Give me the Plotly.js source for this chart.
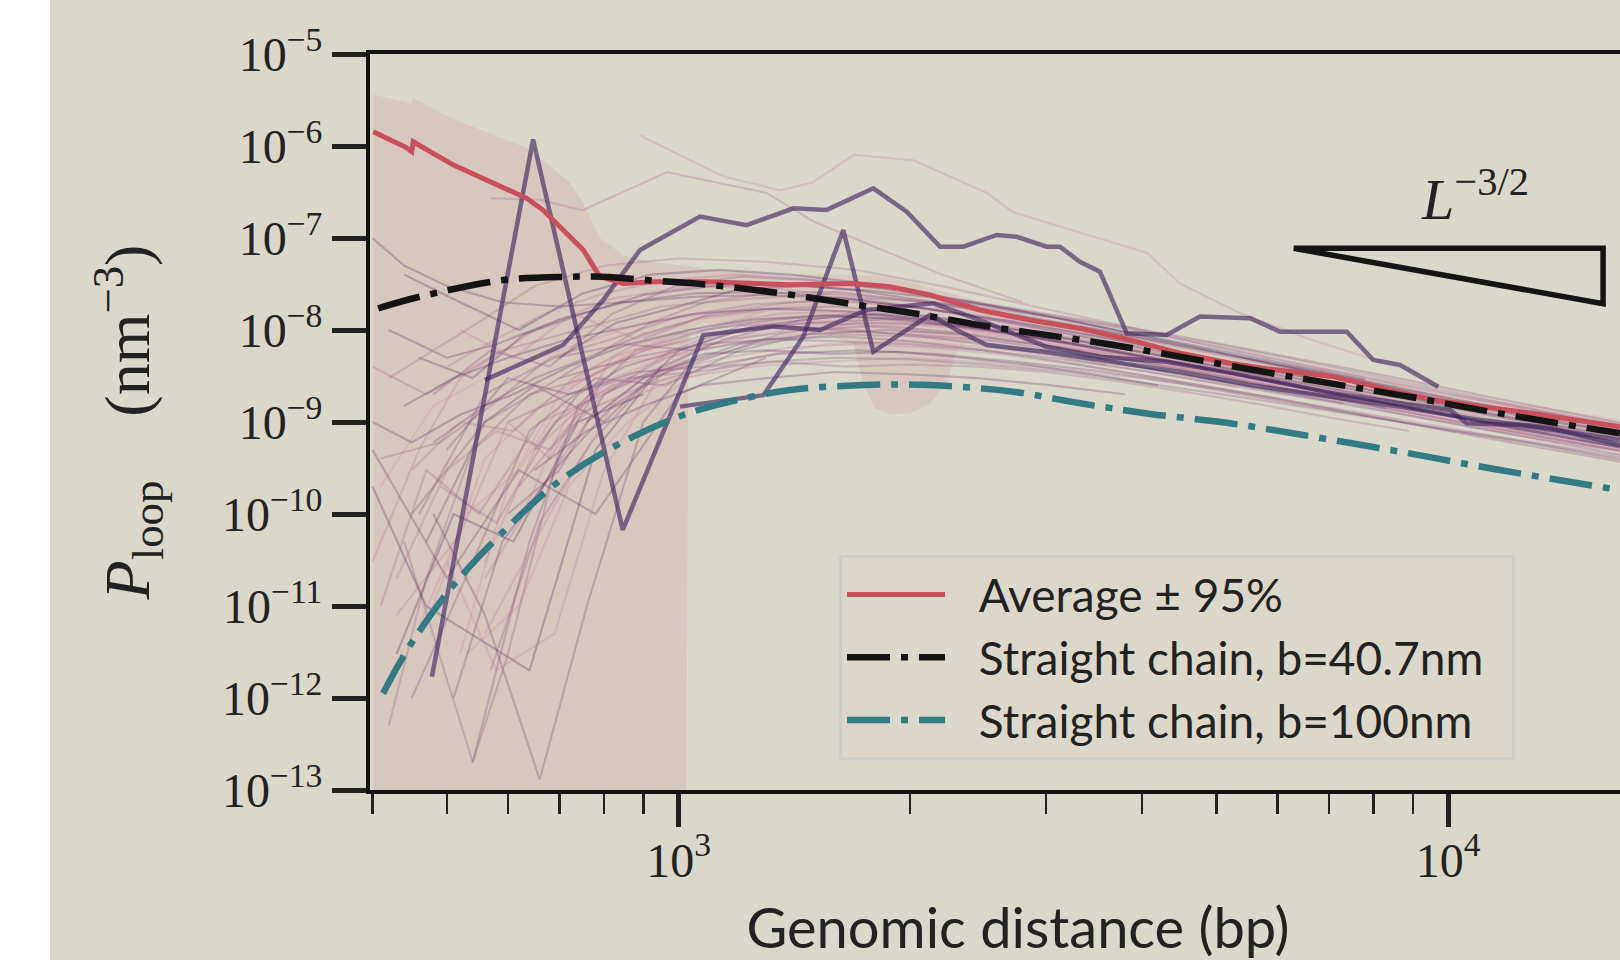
<!DOCTYPE html>
<html><head><meta charset="utf-8">
<script src="https://cdn.plot.ly/plotly-3.0.1.min.js"></script>
<style>
html,body{margin:0;padding:0;background:#ffffff;overflow:hidden;width:1620px;height:960px}
#plot{position:absolute;left:50px;top:0;width:1616px;height:960px}
</style>
</head><body><div id="plot"></div>
<script>
// ---------- data ----------
const avgX = [401,441,450,452,510,552,635,667,722,752,790,848,927,1077,1396,1687,1883,2122,2464,2862,3323,3860,4484,5207,5811,7094,9566,12900,16725];
const avgY = [1.43e-6,9.8e-7,8.7e-7,1.11e-6,6.2e-7,4.6e-7,2.7e-7,2.0e-7,1.03e-7,7.4e-8,3.8e-8,3.2e-8,3.35e-8,3.35e-8,3.1e-8,3.2e-8,2.96e-8,2.4e-8,1.65e-8,1.28e-8,1.04e-8,7.8e-9,5.6e-9,4.35e-9,3.8e-9,3.1e-9,1.73e-9,1.24e-9,8.9e-10];

const bandX  = [401,441,450,452,510,552,635,667,722,752,790,848,927,1020,1030,1077,1250,1396,1550,1687,1738,1800,1883,2000,2122,2230,2300,2464,2862,3323,3860,4484,5207,5811,7094,9566,12900,16725];
const bandHi = [3.6e-6,3.0e-6,2.8e-6,3.3e-6,1.95e-6,1.5e-6,9.5e-7,7e-7,4e-7,2.4e-7,1e-7,6.5e-8,5.5e-8,5e-8,5e-8,4.6e-8,4.2e-8,4e-8,4e-8,4e-8,3.95e-8,3.9e-8,3.7e-8,3.3e-8,2.9e-8,2.6e-8,2.4e-8,2e-8,1.55e-8,1.25e-8,9.4e-9,6.8e-9,5.3e-9,4.6e-9,3.7e-9,2.1e-9,1.5e-9,1.07e-9];
const bandLo = [1e-16,1e-16,1e-16,1e-16,1e-16,1e-16,1e-16,1e-16,1e-16,1e-16,1e-16,1e-16,1e-16,1e-16,1e-8,1.2e-8,1.1e-8,1e-8,9e-9,7e-9,2.6e-9,1.4e-9,1.2e-9,1.25e-9,1.6e-9,2.6e-9,6e-9,9e-9,8e-9,6.8e-9,5.2e-9,3.9e-9,3.1e-9,2.7e-9,2.2e-9,1.3e-9,9.5e-10,6.9e-10];

const chain407X = [407,461,592,722,798,927,1077,1341,1654,2018,2464,3008,3672,4484,6422,8659,11676,16725];
const chain407Y = [1.72e-8,2.30e-8,3.49e-8,3.79e-8,3.79e-8,3.44e-8,3.14e-8,2.54e-8,1.95e-8,1.52e-8,1.13e-8,8.83e-9,6.88e-9,5.13e-9,2.99e-9,1.96e-9,1.24e-9,7.53e-10];

const chain100X = [413,448,510,592,694,831,1014,1190,1396,1738,2122,2722,3323,4058,5207,6422,8659,11676,16725];
const chain100Y = [1.12e-12,3.77e-12,1.69e-11,6.43e-11,2.16e-10,5.62e-10,1.19e-9,1.73e-9,2.23e-9,2.52e-9,2.52e-9,2.13e-9,1.60e-9,1.24e-9,9.68e-10,7.3e-10,4.75e-10,3.01e-10,1.82e-10];

// highlighted single realisations
const hiAX = [478,647,846,1077,1328,1527,1755,2143,2464,3008,3528,4308,5260,6108,7094,8659,10058,10573,12403,16725];
const hiAY = [1.71e-12,1.18e-6,6.7e-11,8.83e-9,1.09e-8,1.0e-8,1.65e-8,1.95e-8,1.28e-8,6.58e-9,5.13e-9,4.52e-9,3.38e-9,2.64e-9,2.05e-9,1.6e-9,1.35e-9,9.68e-10,9.27e-10,6.37e-10];
const hiBX = [560,708,798,891,1066,1226,1410,1558,1791,1979,2187,2344,2591,2750,3008,3130,3323,3528,3823,4308,4760,5529,6048,7383,7995,8659,9711];
const hiBY = [2.86e-9,6.87e-9,2.12e-8,7.41e-8,1.71e-7,1.38e-7,2.10e-7,2.02e-7,3.47e-7,1.93e-7,8.04e-8,8.04e-8,1.08e-7,1.03e-7,8.04e-8,8.04e-8,5.52e-8,4.30e-8,9.2e-9,8.83e-9,1.40e-8,1.34e-8,9.6e-9,9.6e-9,4.72e-9,4.17e-9,2.42e-9];
const hiDX = [1004,1289,1452,1637,1791,2122,2298,2514,3008,3669,4484,5529,7023,8659,11004,13566,16725];
const hiDY = [1.47e-9,1.96e-9,8.45e-9,1.22e-7,5.81e-9,1.46e-8,1.0e-8,6.87e-9,5.77e-9,4.49e-9,3.49e-9,2.52e-9,1.87e-9,1.46e-9,1.05e-9,8.6e-10,5.62e-10];

// faint individual realisations
const thinX = [
 [410,480,560,700,900,1150,1500,1900,2500,3200,4200,5500,7200,9500,12500,16500],
 [430,520,600,680,820,1000,1300,1700,2200,2800,3600,4700,6100,8000],
 [400,470,590,740,950,1250,1600,2100,2700,3500,4500,5800,7500,9800,12800,17000],
 [450,540,640,780,960,1200,1550,2000,2600,3300,4300,5600,7300],
 [470,560,650,800,1000,1250,1600,2050,2650,3400,4400,5700,7400,9600,12500,16000,17000],
 [520,600,700,850,1050,1350,1700,2200,2900,3700,4800,6200,8000,10400,13500,17500],
 [400,460,520,650,820,1050,1350,1750,2300,3000,3900,5100,6600,8600],
 [490,580,690,820,990,1250,1600,2050,2600,3400,4400,5700,7400,9600,12500,17000],
 [540,640,740,880,1080,1350,1700,2150,2750,3500,4500,5800],
 [420,500,580,700,850,1050,1300,1650,2100,2700,3500,4500,5800,7500,9700,12600,17000],
 [460,530,620,730,880,1080,1350,1700,2200,2800,3600,4700,6100,7900,10300,13400,17500],
 [560,650,760,900,1100,1400,1750,2250,2900,3700,4800,6200,8000,10400,13500],
 [410,490,570,680,820,1000,1250,1600,2000,2600,3400,4400,5700,7400,9600,12500,17000],
 [600,700,800,950,1150,1450,1850,2350,3000,3900,5000,6500,8400],
 [440,510,600,720,870,1050,1300,1650,2100,2700,3500,4500,5800,7500,9700,12600,17000],
 [480,560,660,780,940,1150,1450,1800,2300,3000,3900,5000,6500,8400,10900,14200,18500],
 [500,580,680,800,960,1200,1500,1900,2400,3100,4000,5200,6700,8700,11300,14700,17000],
 [420,470,540,640,760,900,1100,1350,1700,2200,2800,3600],
 [650,740,850,1000,1200,1500,1850,2350,3000,3900,5000,6500,8400,10900,14200,18500],
 [400,440,500,590,700,850,1050,1300,1650,2100,2700,3500,4500,5800,7500,9700,12600,17000],
 [530,620,720,860,1030,1250,1550,1950,2500,3200,4100,5300],
 [450,520,610,730,880,1080,1350,1700,2150,2750,3550,4600,6000,7800,10100,13100,17000],
 [570,660,770,920,1100,1350,1700,2150,2750,3500,4500,5800,7500,9700,12600,17000],
 [480,560,650,760,900,1080,1300,1600,2000,2500,3200,4100,5300,6900,9000],
 [400,450,520,610,720,860,1030,1250,1550,1950,2500,3200,4100,5300,6900,9000,11700,17000],
 [620,710,820,970,1160,1420,1780,2250,2900,3700,4800,6200,8000,10400,13500,17500],
 [430,500,580,680,800,960,1170,1450,1800,2300,2900,3700,4800,6200,8000,10400,13500,17500],
 [700,800,920,1080,1300,1600,2000,2550,3250,4200,5400,7000,9100,11800,17000],
 [510,590,690,820,990,1200,1480,1850,2350,3000,3850,4950,6400,8300],
 [460,540,630,750,900,1100,1350,1700,2150,2750,3550,4600,6000,7800,10100,13100,17000],
 [891,1141,1354,1493,1690,2018,2515,2722,3160,4063,4484,5300,6600,8200],
 [570,660,750,966,1300,1500,1800,2200,2800],
 [440,540,600,700,800],
 [480,560,660,760,900,1050],
 [400,470,560,640,780,950],
 [500,580,690,800,940],
 [420,530,650,800,1000,1300,1700,2200,2900,3800,5000,6600,8700,11500,17000],
 [600,720,860,1050,1300,1600,2000,2500,3200,4100,5300,6900,9000,11700,17000],
 [500,600,720,880,1080,1350,1700,2150,2750,3500,4500,5800,7500,9700,12600,17000],
 [440,520,620,750,920,1130,1400,1750,2200,2800,3600,4600,6000,7800],
 [560,680,820,1000,1250,1550,1950,2450,3100,4000,5200,6700,8700],
 [410,470,550,660,800,980,1200,1500,1900,2400,3100,4000,5200,6700,8700,11300,17000],
 [480,570,680,820,990,1200,1480,1850,2350,3000,3900,5100,6600,8600,11200,17000],
 [650,760,900,1070,1300,1600,1980,2450,3050,3800],
 [430,510,610,740,900],
 [520,610,730,880,1050,1280],
 [900,1100,1400,1800,2300,2950,3800,4900,6300,8100,10400,13400,17000],
 [460,560,690,850,1050,1300,1620,2000,2500,3150,4000,5100,6500,8300,10600,13500,17000],
 [400,500,620,780,1000,1300],
 [700,830,1000,1200,1450,1750,2100,2550,3100,3800,4700,5800,7200,9000,11300,14200,17000],
 [560,650,780,950,1150,1400,1700,2100,2600,3300,4200,5400,7000,9100,11800,17000],
 [620,740,900,1100,1350,1650,2000,2450,3000,3700,4600,5700,7100,8900],
 [450,560,700,870,1080,1330,1640,2020,2500,3100,3850,4800,6000,7500,9400,11800,17000],
 [760,900,1080,1300,1580,1920,2330,2830,3450,4200]
];
const thinY = [
 [2e-10,1.5e-9,3e-9,6e-9,1.2e-8,1.6e-8,1.7e-8,1.4e-8,1e-8,7e-9,4.6e-9,3e-9,2e-9,1.3e-9,8.5e-10,5.8e-10],
 [8e-12,6e-11,1e-9,4e-10,5e-9,9e-9,1.3e-8,1.5e-8,1.2e-8,8.5e-9,6e-9,4e-9,2.6e-9,1.7e-9],
 [4e-9,2e-9,6e-9,1e-8,1.8e-8,2.2e-8,2.5e-8,2e-8,1.4e-8,1e-8,6.5e-9,4.3e-9,2.9e-9,1.8e-9,1.15e-9,7.5e-10],
 [1e-12,3e-11,8e-10,3e-9,2.5e-9,6e-9,1e-8,9e-9,7.5e-9,5.5e-9,3.5e-9,2.4e-9,1.6e-9],
 [5e-11,1e-9,2.5e-9,1e-9,6e-9,1.1e-8,1.4e-8,1.3e-8,9.5e-9,6.5e-9,4.5e-9,2.9e-9,1.9e-9,1.25e-9,8e-10,5.5e-10,5.1e-10],
 [3e-12,2e-10,2e-9,5e-9,9e-9,1.8e-8,2e-8,1.7e-8,1.2e-8,8e-9,5.2e-9,3.4e-9,2.2e-9,1.4e-9,9e-10,6e-10],
 [3e-11,5e-10,3e-9,1e-8,2.2e-8,3e-8,2.8e-8,2.2e-8,1.5e-8,1e-8,6.5e-9,4.2e-9,2.8e-9,1.8e-9],
 [2e-10,8e-11,1e-9,2.5e-9,4e-9,7e-9,9e-9,8.5e-9,7e-9,5e-9,3.4e-9,2.3e-9,1.6e-9,1.05e-9,7e-10,4.7e-10],
 [2e-13,5e-11,1.5e-9,6e-9,1e-8,1.3e-8,1.5e-8,1.3e-8,1e-8,7e-9,4.8e-9,3.2e-9],
 [1e-8,5e-9,7e-9,1.3e-8,2e-8,2.5e-8,2.6e-8,2.2e-8,1.7e-8,1.2e-8,8e-9,5.3e-9,3.5e-9,2.3e-9,1.5e-9,1e-9,6.6e-10],
 [6e-12,1e-10,3e-10,2.5e-9,6e-9,8e-9,1.2e-8,1.3e-8,1.1e-8,8e-9,5.6e-9,3.7e-9,2.4e-9,1.55e-9,1e-9,6.8e-10,4.6e-10],
 [2e-11,1.5e-10,1e-9,3e-9,7e-9,1e-8,1.1e-8,9e-9,7e-9,5.5e-9,3.8e-9,2.6e-9,1.7e-9,1.1e-9,7.5e-10],
 [4e-10,6e-10,1.5e-9,5e-9,8e-9,1.4e-8,1.9e-8,2.1e-8,1.8e-8,1.3e-8,9e-9,6e-9,3.9e-9,2.5e-9,1.6e-9,1.05e-9,6.5e-10],
 [1e-10,3e-10,2e-9,4e-9,8e-9,1.3e-8,1.5e-8,1.25e-8,9e-9,6e-9,4e-9,2.6e-9,1.7e-9],
 [1.5e-9,3e-9,5e-9,8e-9,1.1e-8,1.5e-8,1.7e-8,1.6e-8,1.3e-8,9.5e-9,6.5e-9,4.4e-9,2.9e-9,1.9e-9,1.25e-9,8.5e-10,5.5e-10],
 [1e-11,4e-10,1.5e-9,4e-9,5e-9,8e-9,1.1e-8,1.2e-8,1.05e-8,7.5e-9,5e-9,3.4e-9,2.2e-9,1.45e-9,9.5e-10,6.3e-10,4.2e-10],
 [4e-9,8e-9,1.6e-8,2.5e-8,3.5e-8,4e-8,3.5e-8,2.7e-8,2e-8,1.4e-8,9.5e-9,6.2e-9,4e-9,2.6e-9,1.7e-9,1.1e-9,8.8e-10],
 [5e-13,2e-11,5e-10,2e-9,3e-9,6e-9,9e-9,1.1e-8,1e-8,8e-9,6e-9,4.2e-9],
 [5e-10,2e-9,4e-9,6e-9,1e-8,1.2e-8,1.3e-8,1.1e-8,8e-9,5.4e-9,3.6e-9,2.4e-9,1.55e-9,1e-9,6.8e-10,4.6e-10],
 [1e-7,5e-8,3e-8,2e-8,1.8e-8,2e-8,2.3e-8,2.4e-8,2.2e-8,1.7e-8,1.25e-8,8.5e-9,5.6e-9,3.7e-9,2.4e-9,1.6e-9,1.05e-9,6.9e-10],
 [3e-12,1e-11,2e-10,1e-9,3e-9,5e-9,7e-9,7.5e-9,6.5e-9,5e-9,3.5e-9,2.4e-9],
 [3e-10,1e-9,8e-10,3e-9,7e-9,1.1e-8,1.5e-8,1.6e-8,1.4e-8,1.05e-8,7.2e-9,4.8e-9,3.1e-9,2e-9,1.3e-9,8.5e-10,5.8e-10],
 [2e-12,8e-11,6e-10,3e-9,5e-9,9e-9,1.2e-8,1.15e-8,9e-9,6.5e-9,4.4e-9,2.9e-9,1.9e-9,1.25e-9,8.2e-10,5.2e-10],
 [6e-10,1.5e-9,3e-9,5e-9,9e-9,1.4e-8,1.7e-8,1.8e-8,1.5e-8,1.15e-8,8e-9,5.5e-9,3.6e-9,2.4e-9,1.55e-9],
 [1e-9,6e-10,1.2e-9,2e-9,4e-9,7e-9,1e-8,1.3e-8,1.45e-8,1.3e-8,1e-8,7.2e-9,4.9e-9,3.3e-9,2.1e-9,1.4e-9,9.2e-10,5.2e-10],
 [8e-11,1e-9,3e-9,5e-9,7e-9,9e-9,9.5e-9,8.5e-9,6.8e-9,5e-9,3.4e-9,2.3e-9,1.5e-9,1e-9,6.6e-10,4.5e-10],
 [2e-11,3e-10,8e-10,5e-10,2e-9,5e-9,8e-9,1e-8,1.1e-8,9.5e-9,7.5e-9,5.2e-9,3.5e-9,2.3e-9,1.5e-9,1e-9,6.7e-10,4.6e-10],
 [3e-9,6e-9,1.2e-8,2e-8,2.5e-8,2.6e-8,2.1e-8,1.6e-8,1.1e-8,7.5e-9,5e-9,3.3e-9,2.1e-9,1.35e-9,7.5e-10],
 [1e-12,5e-11,3e-10,1.5e-9,4e-9,7e-9,9e-9,1e-8,9e-9,6.8e-9,4.7e-9,3.2e-9,2.1e-9,1.4e-9],
 [5e-9,3e-9,9e-9,1.5e-8,2.4e-8,3e-8,3.2e-8,2.7e-8,2e-8,1.45e-8,1e-8,6.6e-9,4.3e-9,2.8e-9,1.8e-9,1.2e-9,8e-10],
 [1.3e-6,4.7e-7,3.3e-7,4e-7,8e-7,7e-7,3.1e-7,1.9e-7,1.3e-7,6.9e-8,3.2e-8,1.6e-8,8e-9,4.5e-9],
 [2.7e-7,2.6e-7,2e-7,5.2e-7,3.1e-7,1.5e-7,8e-8,4e-8,2e-8],
 [5e-11,2e-13,3e-12,5e-10,3e-9],
 [1e-10,8e-12,1.3e-13,1e-11,1e-9,5e-9],
 [2e-10,1e-11,4e-12,2e-12,5e-10,4e-9],
 [3e-11,2e-12,5e-12,3e-10,3e-9],
 [3e-9,1e-8,3e-8,5e-8,6e-8,5.5e-8,4.5e-8,3e-8,1.8e-8,1.1e-8,6.5e-9,4e-9,2.5e-9,1.6e-9,8.5e-10],
 [1e-9,2e-9,3e-9,3.5e-9,4.5e-9,5e-9,4.8e-9,4.2e-9,3.5e-9,2.6e-9,1.9e-9,1.35e-9,9.5e-10,6.8e-10,4e-10],
 [5e-10,3e-9,2e-9,3.5e-9,4e-9,5.5e-9,6e-9,5.5e-9,4.5e-9,3.6e-9,2.6e-9,1.8e-9,1.25e-9,8.5e-10,6e-10,3.8e-10],
 [4e-8,2e-8,1e-8,2.5e-8,4e-8,4.5e-8,4e-8,3.2e-8,2.3e-8,1.6e-8,1.05e-8,7e-9,4.5e-9,2.9e-9],
 [5e-12,1e-10,1.5e-9,3e-9,4e-9,4.5e-9,5e-9,4.5e-9,3.8e-9,3e-9,2.2e-9,1.5e-9,1.05e-9],
 [1e-11,3e-10,1e-10,1e-9,2e-9,6e-9,1.1e-8,1.2e-8,1.1e-8,8.8e-9,6.5e-9,4.5e-9,3e-9,2e-9,1.3e-9,8.5e-10,4.8e-10],
 [2e-9,6e-9,4e-9,1.5e-8,3e-8,3.8e-8,3.5e-8,2.8e-8,2.1e-8,1.5e-8,1.05e-8,7e-9,4.6e-9,3e-9,1.9e-9,9.5e-10],
 [3e-10,8e-10,1.5e-9,2.5e-9,3e-9,3.5e-9,3.3e-9,3e-9,2.5e-9,2e-9],
 [3e-12,1e-10,5e-11,1e-9,2e-9],
 [1e-8,5e-9,1.5e-8,8e-9,1.3e-8,1.6e-8],
 [8e-9,1.5e-8,2e-8,2.2e-8,1.9e-8,1.45e-8,1.05e-8,7.2e-9,4.8e-9,3.1e-9,2e-9,1.3e-9,9e-10],
 [1e-10,2e-9,5e-9,7e-9,6e-9,8e-9,7.5e-9,7e-9,6e-9,4.8e-9,3.6e-9,2.6e-9,1.85e-9,1.3e-9,9e-10,6.2e-10,4.3e-10],
 [5e-10,2e-11,3e-10,1e-10,2e-9,5e-9],
 [5e-9,1.2e-8,1.8e-8,2.8e-8,3e-8,2.7e-8,2.3e-8,1.8e-8,1.35e-8,9.5e-9,6.5e-9,4.4e-9,3e-9,2e-9,1.35e-9,9.5e-10,7.5e-10],
 [3e-11,5e-10,2e-9,3.5e-9,5e-9,6.5e-9,7e-9,6.5e-9,5.5e-9,4.2e-9,3e-9,2.1e-9,1.45e-9,1e-9,6.8e-10,4.2e-10],
 [2e-10,1.2e-9,2.5e-9,4e-9,4.5e-9,4e-9,4.2e-9,4e-9,3.5e-9,2.8e-9,2.1e-9,1.55e-9,1.1e-9,8e-10],
 [1e-10,1e-9,3e-9,5e-9,7e-9,8e-9,8.5e-9,7.5e-9,6e-9,4.6e-9,3.4e-9,2.5e-9,1.8e-9,1.25e-9,8.8e-10,6.2e-10,3.6e-10],
 [1e-9,3e-9,5.5e-9,6e-9,5.5e-9,5.8e-9,5e-9,4.2e-9,3.3e-9,2.5e-9]
];

// L^{-3/2} guide triangle
const slopeX = [6300,15900,15900,6300];
const slopeY = [7.73e-8,7.73e-8,1.93e-8,7.73e-8];

// tick labels
const xTickVals = [1000,10000];
const xTickText = ['10<sup>3</sup>','10<sup>4</sup>'];
const xMinorVals = [400,500,600,700,800,900,2000,3000,4000,5000,6000,7000,8000,9000,20000];
const yTickVals = [1e-13,1e-12,1e-11,1e-10,1e-9,1e-8,1e-7,1e-6,1e-5];
const yTickText = ['10<sup>−13</sup>','10<sup>−12</sup>','10<sup>−11</sup>','10<sup>−10</sup>','10<sup>−9</sup>','10<sup>−8</sup>','10<sup>−7</sup>','10<sup>−6</sup>','10<sup>−5</sup>'];

// ---------- styling & drawing ----------
const BG = '#dad8cb';
const SERIF = 'Liberation Serif, DejaVu Serif, serif';
const SANS = 'Lato, Open Sans, sans-serif';
const dashDot = '43px,11px,7px,11px';
const GAP = '\u2002\u2009';
const TAIL = '\u2002';

const traces = [];
traces.push({x: bandX, y: bandHi, mode:'lines', line:{width:0, color:'rgba(0,0,0,0)'}, showlegend:false, hoverinfo:'skip'});
traces.push({x: bandX, y: bandLo, mode:'lines', fill:'tonexty', fillcolor:'rgba(200,85,95,0.12)', line:{width:0, color:'rgba(0,0,0,0)'}, showlegend:false, hoverinfo:'skip'});

const pinkC = [214,140,168], purpC = [72,32,92];
const n = thinX.length;
for (let i = 0; i < n; i++) {
  const t = ((i * 11) % n) / (n - 1);
  const c = pinkC.map((p, k) => Math.round(p + (purpC[k] - p) * t));
  traces.push({x: thinX[i], y: thinY[i], mode:'lines',
    line:{width:2.1, color:`rgba(${c[0]},${c[1]},${c[2]},0.29)`},
    showlegend:false, hoverinfo:'skip'});
}
const hiLine = {width:4.5, color:'rgba(62,35,90,0.63)'};
[[hiAX,hiAY],[hiBX,hiBY],[hiDX,hiDY]].forEach(([xx,yy]) => {
  traces.push({x: xx, y: yy, mode:'lines', line: hiLine, showlegend:false, hoverinfo:'skip'});
});

traces.push({x: avgX, y: avgY, mode:'lines', name: GAP + 'Average ± 95%' + TAIL, legendgroup:'a',
  line:{width:5, color:'#c9505a'}});
traces.push({x: chain407X, y: chain407Y, mode:'lines', name: GAP + 'Straight chain, b=40.7nm' + TAIL, legendgroup:'b',
  line:{width:6.5, color:'#141414', dash:dashDot, shape:'spline', smoothing:1}});
traces.push({x: chain100X, y: chain100Y, mode:'lines', name: GAP + 'Straight chain, b=100nm' + TAIL, legendgroup:'c',
  line:{width:6.5, color:'#327a84', dash:dashDot, shape:'spline', smoothing:1}});
traces.push({x: slopeX, y: slopeY, mode:'lines', showlegend:false, hoverinfo:'skip',
  line:{width:5.5, color:'#141414'}});

const layout = {
  width: 1616, height: 960,
  paper_bgcolor: BG, plot_bgcolor: BG,
  margin: {l: 320, r: 0, t: 54, b: 170},
  showlegend: true,
  xaxis: {
    type:'log', range:[2.59896, 4.28317], autorange:false,
    showgrid:false, zeroline:false,
    showline:true, linecolor:'#111', linewidth:4, mirror:true,
    ticks:'outside', ticklen:33, tickwidth:5, tickcolor:'#222',
    tickmode:'array', tickvals:xTickVals, ticktext:xTickText,
    tickfont:{family:SERIF, size:48, color:'#222'}, ticklabelstandoff:-8,
    minor:{tickmode:'array', tickvals:xMinorVals, ticks:'outside', ticklen:20, tickwidth:2.5, tickcolor:'#222', showgrid:false},
    title:{text:'Genomic distance (bp)', font:{family:SANS, size:56, color:'#222'}, standoff:26}
  },
  yaxis: {
    type:'log', range:[-13, -5], autorange:false,
    showgrid:false, zeroline:false,
    showline:true, linecolor:'#111', linewidth:4, mirror:false,
    ticks:'outside', ticklen:34, tickwidth:5, tickcolor:'#222',
    tickmode:'array', tickvals:yTickVals, ticktext:yTickText,
    tickfont:{family:SERIF, size:48, color:'#222'},
    title:{text:'<i>P</i><sub>loop</sub>\u2003(nm<sup>−3</sup>)', font:{family:SERIF, size:64, color:'#222'}, standoff:52}
  },
  legend: {
    x: 0.3619, y: 0.3193, xanchor:'left', yanchor:'top',
    bgcolor:'rgba(218,216,203,0.85)', bordercolor:'#cdcdca', borderwidth:3,
    font:{family:SANS, size:46, color:'#222'},
    itemwidth:98, tracegroupgap:0, traceorder:'grouped'
  },
  annotations: [{
    xref:'paper', yref:'paper', x:0.8526, y:0.8074, xanchor:'center', yanchor:'middle',
    text:'<i>L</i><sup>−3/2</sup>', showarrow:false,
    font:{family:SERIF, size:58, color:'#222'}
  }]
};

Plotly.newPlot('plot', traces, layout, {staticPlot:true, displayModeBar:false});
</script></body></html>
